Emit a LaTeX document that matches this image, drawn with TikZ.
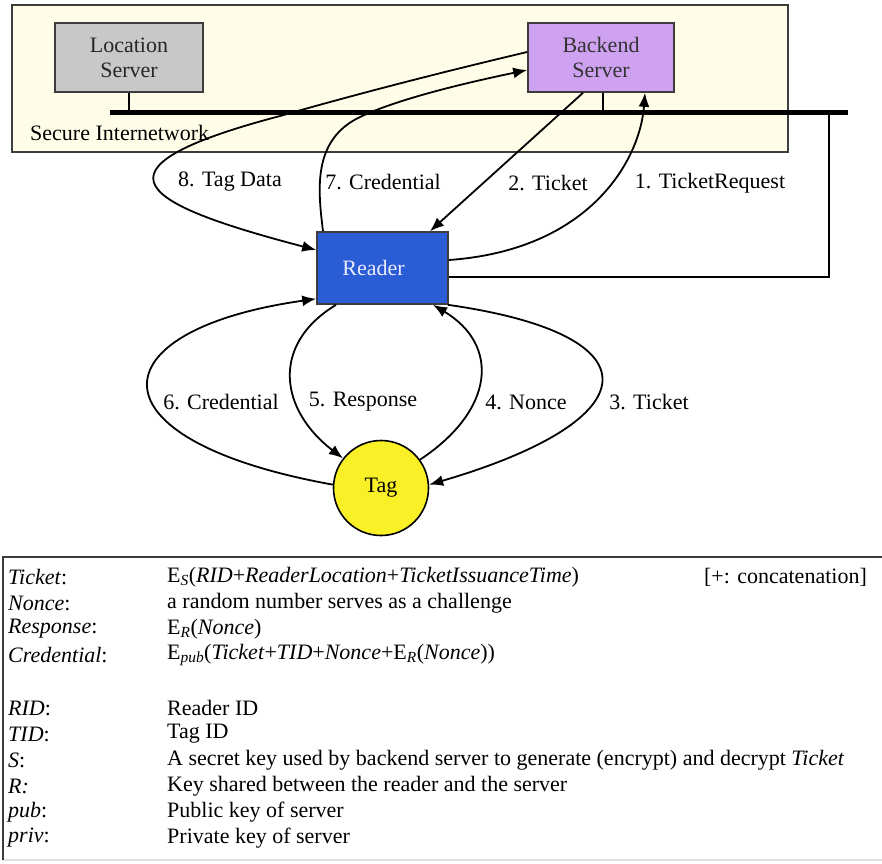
\documentclass[tikz,border=0pt]{standalone}
\usepackage{fontspec}
\setmainfont{Liberation Serif}
\usetikzlibrary{arrows.meta}
\definecolor{cream}{RGB}{255,253,232}
\definecolor{locgray}{RGB}{200,200,200}
\definecolor{backviolet}{RGB}{206,162,240}
\definecolor{readerblue}{RGB}{42,92,214}
\definecolor{tagyellow}{RGB}{250,240,40}
\definecolor{frame}{RGB}{60,60,60}
\tikzset{
  txt/.style={font=\fontsize{22}{25}\selectfont, inner sep=0pt},
  srvbox/.style={draw=frame, line width=1.6pt, align=center, inner sep=0pt, font=\fontsize{22}{25}\selectfont},
  arr/.style={line width=1.8pt, -{Latex[length=14pt,width=11pt]}},
  plain/.style={line width=1.5pt, draw=black},
  lab/.style={font=\fontsize{22}{25}\selectfont, inner sep=0pt, anchor=west},
}
\begin{document}
\begin{tikzpicture}[x=1pt,y=-1pt]
\useasboundingbox (0,0) rectangle (882,863);
\fill[white] (0,0) rectangle (882,863);

% secure internetwork
\draw[frame, fill=cream, line width=1.6pt] (12,5) rectangle (788,152);
\node[txt, anchor=west] (secnet) at (30,133) {Secure Internetwork};

% servers
\node[srvbox, fill=locgray, minimum width=148pt, minimum height=69pt, text=black!85] (loc) at (129,57.5) {Location\\Server};
\node[srvbox, fill=backviolet, minimum width=146pt, minimum height=69pt, text=black!80] (back) at (601,57.5) {Backend\\Server};

% bus
\coordinate (busL) at (110,112);
\coordinate (busR) at (848,112);
\coordinate (busT) at (829,112);
\draw[line width=5pt] (busL) -- (busR);
\draw[plain] (loc.south) -- (loc.south |- busL);
\draw[plain] ([xshift=2pt]back.south) -- ([xshift=2pt]back.south |- busL);

% reader and tag
\node[draw=frame, line width=1.6pt, fill=readerblue, minimum width=131pt, minimum height=72pt, inner sep=0pt, text=white!92!blue, font=\fontsize{22}{25}\selectfont] (reader) at (382.5,268) {\hspace*{-18pt}Reader};
\node[draw=black, line width=1.6pt, fill=tagyellow, circle, minimum size=95pt, inner sep=0pt, font=\fontsize{22}{25}\selectfont] (tag) at (381,488) {Tag};

% wired link reader - network
\draw[plain] (busT) |- ([yshift=-9pt]reader.east);

% upper arrows
\draw[arr] ([yshift=8pt]reader.east) .. controls (590,250) and (640,160) .. ([xshift=44pt]back.south);
\draw[arr] ([xshift=-18pt]back.south) -- ([xshift=47.5pt]reader.north);
\draw[arr] ([xshift=-59.5pt]reader.north) .. controls (318,190) and (312,140) .. (360,117) .. controls (400,98) and (470,82) .. ([yshift=-12.5pt]back.west);
\draw[arr] ([yshift=5.5pt]back.west) .. controls (430,75) and (350,96) .. (280,116) .. controls (75,170) and (145,205) .. ([yshift=18pt]reader.west);

% lower arrows
\draw[arr] (tag.176) .. controls (85,440) and (95,330) .. ([yshift=6pt]reader.south west);
\draw[arr] ([xshift=-46.5pt]reader.south) .. controls (270,345) and (280,410) .. (tag.142);
\draw[arr] (tag.36) .. controls (495,410) and (500,345) .. ([xshift=50.5pt]reader.south);
\draw[arr] ([xshift=-1pt]reader.south east) .. controls (660,335) and (650,420) .. (tag.4);

% labels
\node[txt] (l8) at (230,182) {8. Tag Data};
\node[txt] (l7) at (383,182) {7. Credential};
\node[txt] (l2) at (548,183) {2. Ticket};
\node[txt] (l1) at (710,183) {1. TicketRequest};
\node[txt] (l6) at (221,402) {6. Credential};
\node[txt] (l5) at (363,402) {5. Response};
\node[txt] (l4) at (526,402) {4. Nonce};
\node[txt] (l3) at (649,402) {3. Ticket};

% legend frame
\draw[black!12, line width=1.5pt] (3,860) -- (882,860);
\draw[frame, line width=1.8pt] (3,860) -- (3,557) -- (882,557);

% legend
\node[lab] (k1) at (8,577) {\textit{Ticket}:};
\node[lab] (k2) at (8,603) {\textit{Nonce}:};
\node[lab] (k3) at (8,629) {\textit{Response}:};
\node[lab] (k4) at (8,655) {\textit{Credential}:};
\node[lab] (k5) at (8,708) {\textit{RID}:};
\node[lab] (k6) at (8,734) {\textit{TID}:};
\node[lab] (k7) at (8,760) {\textit{S}:};
\node[lab] (k8) at (8,786) {\textit{R:}};
\node[lab] (k9) at (8,812) {\textit{pub}:};
\node[lab] (k10) at (8,838) {\textit{priv}:};

\node[lab] (v1) at (167,577) {E\textsubscript{\textit{S}}(\textit{RID}+\textit{ReaderLocation}+\textit{TicketIssuanceTime})};
\node[lab, anchor=east] (v1b) at (867,577) {[+: concatenation]};
\node[lab] (v2) at (167,603) {a random number serves as a challenge};
\node[lab] (v3) at (167,629) {E\textsubscript{\textit{R}}(\textit{Nonce})};
\node[lab] (v4) at (167,655) {E\textsubscript{\textit{pub}}(\textit{Ticket}+\textit{TID}+\textit{Nonce}+E\textsubscript{\textit{R}}(\textit{Nonce}))};
\node[lab] (v5) at (167,708) {Reader ID};
\node[lab] (v6) at (167,734) {Tag ID};
\node[lab] (v7) at (167,760) {A secret key used by backend server to generate (encrypt) and decrypt \textit{Ticket}};
\node[lab] (v8) at (167,786) {Key shared between the reader and the server};
\node[lab] (v9) at (167,812) {Public key of server};
\node[lab] (v10) at (167,838) {Private key of server};
\end{tikzpicture}
\end{document}
